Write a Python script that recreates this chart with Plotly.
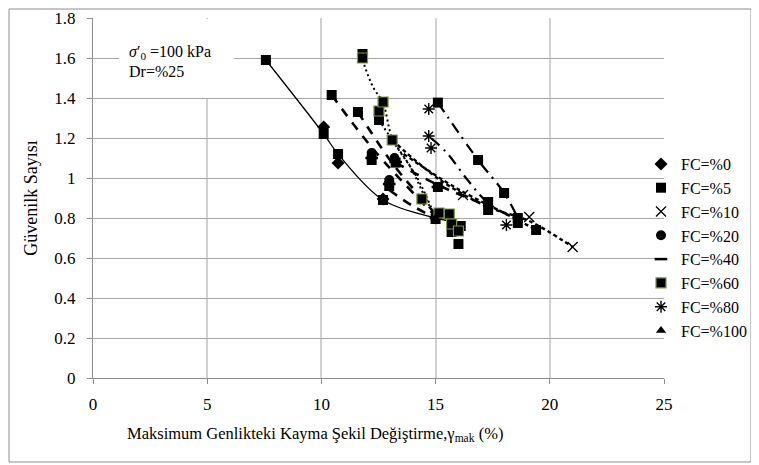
import plotly.graph_objects as go

# ---- marker series (legend) ----
fc0_x = [10.1, 10.73, 12.7, 15.0]
fc0_y = [1.255, 1.075, 0.895, 0.80]
fc5_x = [7.57, 10.1, 10.73, 12.7, 15.0]
fc5_y = [1.59, 1.22, 1.12, 0.89, 0.795]
fc10_x = [16.2, 19.1, 21.0]
fc10_y = [0.915, 0.805, 0.655]
fc20_x = [12.2, 12.97, 13.2]
fc20_y = [1.125, 0.99, 1.10]
fc40_x = [12.2, 12.97, 13.25, 15.1]
fc40_y = [1.10, 0.97, 1.08, 0.955]
fc60_x = [11.8, 12.52, 12.7, 13.1, 14.4, 15.15, 15.6, 15.7, 16.0]
fc60_y = [1.60, 1.335, 1.38, 1.19, 0.895, 0.825, 0.82, 0.77, 0.735]
fc80_x = [14.7, 14.7, 14.8, 18.1]
fc80_y = [1.345, 1.21, 1.15, 0.765]
fc100_x = [12.7, 15.0]
fc100_y = [0.885, 0.80]
extra_sq_x = [10.45, 11.6, 11.8, 12.52, 12.2, 12.97, 13.25, 15.1, 15.1, 16.86,
              18.0, 17.3, 17.3, 18.6, 18.6, 19.4, 15.7, 16.1, 16.0]
extra_sq_y = [1.415, 1.33, 1.62, 1.29, 1.09, 0.96, 1.077, 0.955, 1.377, 1.09,
              0.925, 0.88, 0.84, 0.80, 0.775, 0.74, 0.73, 0.76, 0.67]

# ---- trend lines ----
t_solid_x = [7.57, 10.1, 10.73, 12.7, 15.0, 15.6]
t_solid_y = [1.59, 1.22, 1.12, 0.89, 0.80, 0.785]
t_ld1_x = [10.45, 12.3, 14.9]
t_ld1_y = [1.415, 1.14, 0.82]
t_ld2_x = [11.6, 13.2, 15.0]
t_ld2_y = [1.33, 1.06, 0.82]
t_ld3_x = [12.97, 14.0, 15.0]
t_ld3_y = [0.94, 0.86, 0.80]
t_ld4_x = [13.25, 15.2, 17.3]
t_ld4_y = [1.077, 0.96, 0.86]
t_sd1_x = [13.1, 15.2, 17.3, 19.1, 21.0]
t_sd1_y = [1.19, 0.99, 0.855, 0.785, 0.655]
t_sd2_x = [13.6, 15.9, 18.6, 19.4]
t_sd2_y = [1.12, 0.95, 0.79, 0.74]
t_dot1_x = [11.8, 12.26, 12.7, 13.1, 13.9, 14.45, 14.97]
t_dot1_y = [1.59, 1.455, 1.375, 1.2, 1.055, 0.925, 0.805]
t_dot2_x = [12.52, 13.3, 14.2, 15.0]
t_dot2_y = [1.29, 1.155, 1.0, 0.80]
t_dd1_x = [15.1, 16.86, 18.0, 18.6]
t_dd1_y = [1.377, 1.09, 0.925, 0.80]
t_dd2_x = [14.8, 15.5, 16.4, 17.3, 18.6]
t_dd2_y = [1.2, 1.125, 0.99, 0.875, 0.79]

xticks = [0, 5, 10, 15, 20, 25]
yticks = [0, 0.2, 0.4, 0.6, 0.8, 1, 1.2, 1.4, 1.6, 1.8]
ytick_text = ["0", "0.2", "0.4", "0.6", "0.8", "1", "1.2", "1.4", "1.6", "1.8"]

FONT = "Times New Roman, Liberation Serif, serif"
fig = go.Figure()

def line(x, y, dash, width=2.2):
    fig.add_trace(go.Scatter(x=x, y=y, mode="lines", line=dict(color="black", width=width, dash=dash, shape="spline"),
                             showlegend=False, hoverinfo="skip"))

line(t_solid_x, t_solid_y, "solid", 1.3)
line(t_ld1_x, t_ld1_y, "9px,8px", 2.6)
line(t_ld2_x, t_ld2_y, "9px,8px", 2.6)
line(t_ld3_x, t_ld3_y, "9px,8px", 2.6)
line(t_ld4_x, t_ld4_y, "9px,8px", 2.6)
line(t_sd1_x, t_sd1_y, "4px,3px", 2.4)
line(t_sd2_x, t_sd2_y, "4px,3px", 2.4)
line(t_dot1_x, t_dot1_y, "2px,3px", 2.0)
line(t_dot2_x, t_dot2_y, "2px,3px", 2.0)
line(t_dd1_x, t_dd1_y, "11px,6px,2px,6px", 2.2)
line(t_dd2_x, t_dd2_y, "11px,6px,2px,6px", 2.2)

fig.add_trace(go.Scatter(x=extra_sq_x, y=extra_sq_y, mode="markers", showlegend=False,
                         marker=dict(symbol="square", size=10, color="black")))

def mk(x, y, name, symbol, size, color="black", lw=0, lc="black"):
    fig.add_trace(go.Scatter(x=x, y=y, mode="markers", name=name,
                             marker=dict(symbol=symbol, size=size, color=color,
                                         line=dict(width=lw, color=lc))))

mk(fc0_x, fc0_y, "FC=%0", "diamond", 10)
mk(fc5_x, fc5_y, "FC=%5", "square", 10)
mk(fc10_x, fc10_y, "FC=%10", "x-thin", 10, lw=1.3)
mk(fc20_x, fc20_y, "FC=%20", "circle", 10)
mk(fc40_x, fc40_y, "FC=%40", "line-ew", 9, lw=2.5)
mk(fc60_x, fc60_y, "FC=%60", "square", 10, color="black", lw=1.2, lc="#7A9A3A")
mk(fc80_x, fc80_y, "FC=%80", "asterisk", 10, lw=1.4)
mk(fc100_x, fc100_y, "FC=%100", "triangle-up", 9)

# page is offset by the 8px body margin of the html page
OFF = 8
W, H = 759 - OFF, 465 - OFF
L, T = 93 - OFF, 18 - OFF
R, B = W - (664 - OFF), H - (378 - OFF)
pw, ph = W - L - R, H - T - B

def px(x):
    return (x - OFF - L) / pw

def py(y):
    return (H - B - (y - OFF)) / ph

fig.update_layout(
    width=W, height=H,
    margin=dict(l=L, r=R, t=T, b=B, autoexpand=False),
    paper_bgcolor="white", plot_bgcolor="white",
    font=dict(family=FONT, size=16, color="black"),
    xaxis=dict(range=[0, 25], tickvals=xticks, showgrid=True, gridcolor="#D0D0D0", gridwidth=1.5,
               showline=True, linecolor="#8C8C8C", linewidth=1, ticks="outside", ticklen=5,
               tickcolor="#8C8C8C", zeroline=False, tickfont=dict(family=FONT, size=17), automargin=False,
               ticklabelstandoff=6),
    yaxis=dict(range=[0, 1.8], tickvals=yticks, ticktext=ytick_text, showgrid=True, gridcolor="#A6A6A6",
               gridwidth=1, showline=True, linecolor="#8C8C8C", linewidth=1, ticks="outside", ticklen=5,
               tickcolor="#8C8C8C", zeroline=False, tickfont=dict(family=FONT, size=17), automargin=False,
               ticklabelstandoff=8,
               title=dict(text="Güvenilk Sayısı", font=dict(family=FONT, size=18), standoff=12)),
    legend=dict(x=px(641), y=py(147), xanchor="left", yanchor="top", font=dict(family=FONT, size=16),
                bgcolor="rgba(0,0,0,0)", itemwidth=30, tracegroupgap=0),
    shapes=[
        dict(type="rect", xref="paper", yref="paper", x0=px(119), x1=px(234), y0=py(98), y1=py(19),
             fillcolor="white", line=dict(width=0), layer="above"),
        dict(type="rect", xref="paper", yref="paper", x0=px(9), x1=px(751), y0=py(462), y1=py(9),
             fillcolor="rgba(0,0,0,0)", line=dict(width=1, color="#8C8C8C")),
    ],
    annotations=[
        dict(xref="paper", yref="paper", x=px(127), y=py(52), xanchor="left", yanchor="middle",
             text="<i>σ</i>′<sub>0</sub> =100 kPa", showarrow=False, font=dict(family=FONT, size=16)),
        dict(xref="paper", yref="paper", x=px(127), y=py(71), xanchor="left", yanchor="middle",
             text="Dr=%25", showarrow=False, font=dict(family=FONT, size=16)),
        dict(xref="paper", yref="paper", x=px(315), y=py(434), xanchor="center", yanchor="middle",
             text="Maksimum Genlikteki Kayma Şekil Değiştirme,γ<sub>mak</sub> (%)", showarrow=False,
             font=dict(family=FONT, size=16.5)),
    ],
)

fig.write_html("out.html")
